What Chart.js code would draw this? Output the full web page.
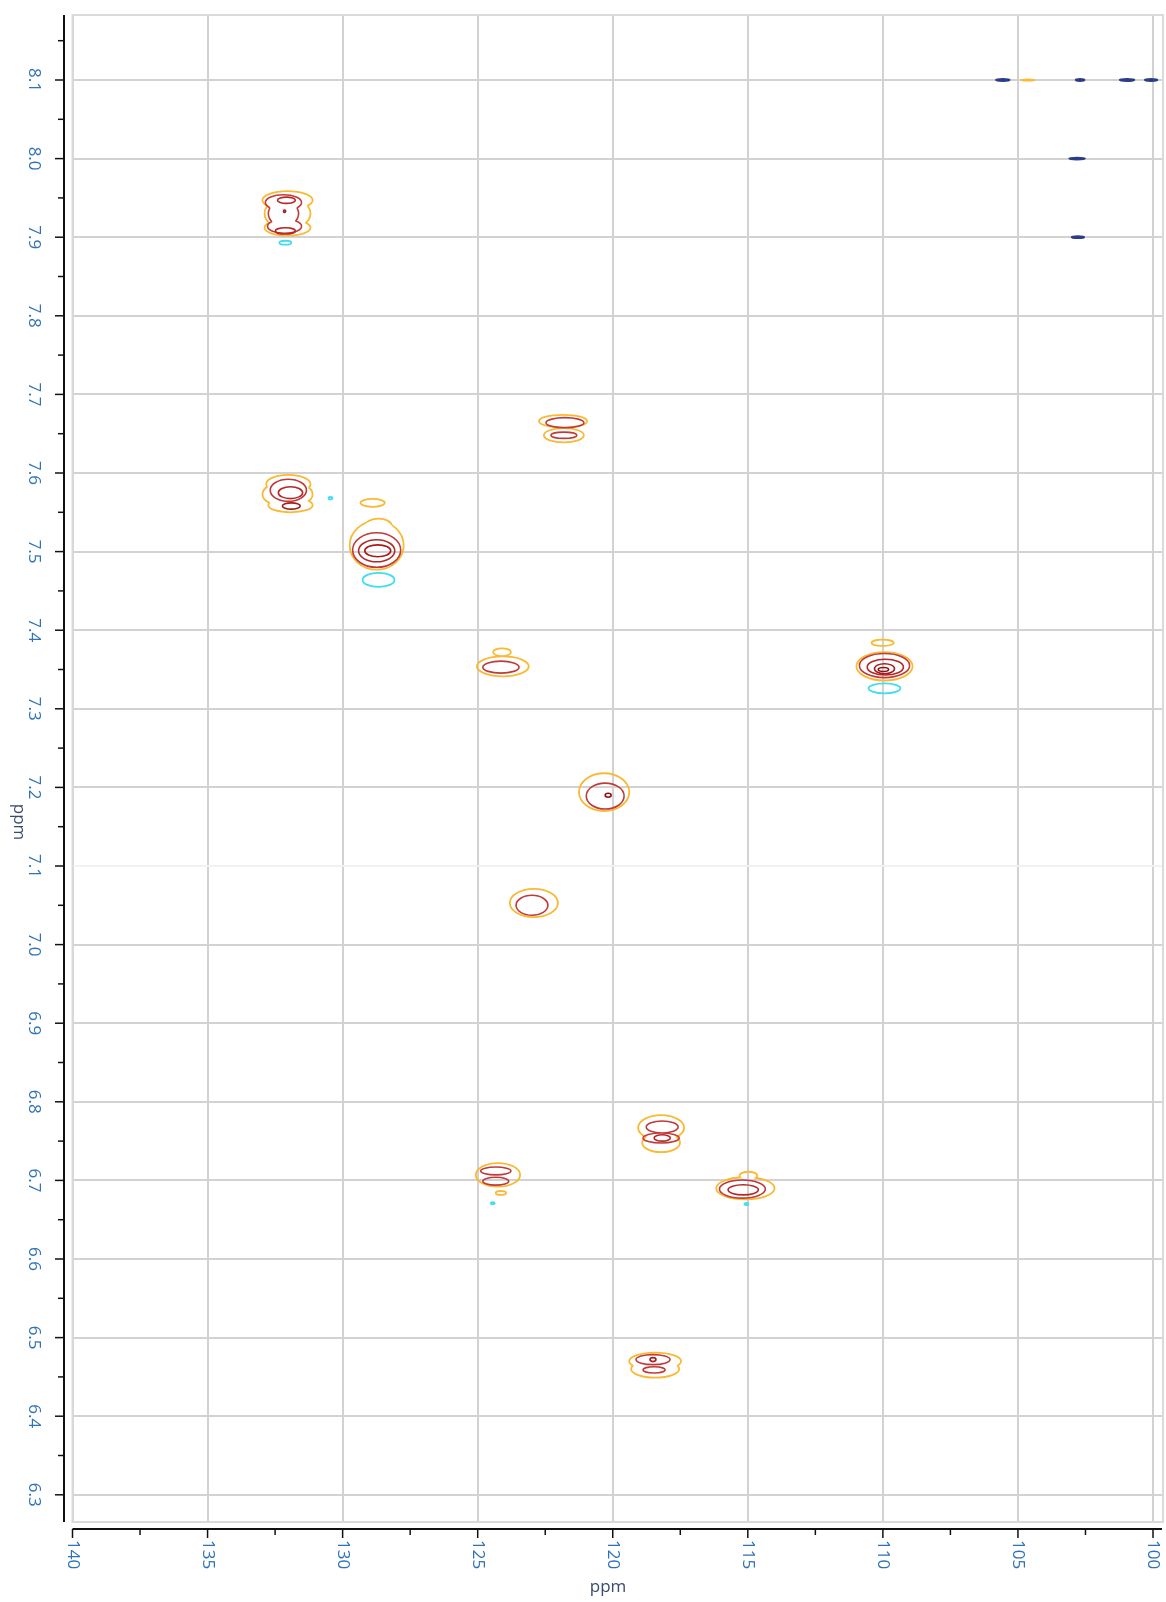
<!DOCTYPE html>
<html>
<head>
<meta charset="utf-8">
<script src="https://cdn.jsdelivr.net/npm/chart.js@4.4.1/dist/chart.umd.min.js"></script>
<style>
    html, body { margin: 0; background: #fff; }
    #wrap { width: 1166px; height: 1602px; position: relative; }
</style>
</head>
<body>
<div id="wrap"><canvas id="hsqc"></canvas></div>
<script>
// axis ranges (ppm) and tick labels
const carbonRange = [99.63, 140];
const protonRange = [6.2654, 8.1827];
const carbonTicks = [140, 135, 130, 125, 120, 115, 110, 105, 100];
const carbonMinor = [137.5, 132.5, 127.5, 122.5, 117.5, 112.5, 107.5, 102.5];
const protonTicks = [8.1, 8.0, 7.9, 7.8, 7.7, 7.6, 7.5, 7.4, 7.3, 7.2, 7.1, 7.0, 6.9, 6.8, 6.7, 6.6, 6.5, 6.4, 6.3];
const protonMinor = [8.15, 8.05, 7.95, 7.85, 7.75, 7.65, 7.55, 7.45, 7.35, 7.25, 7.15, 7.05, 6.95, 6.85, 6.75, 6.65, 6.55, 6.45, 6.35];

// contour rings: centre (13C, 1H), half widths in ppm, contour level, peak they belong to
// level: 0 lowest positive, 1..4 higher positive, -1 negative, 5 noise streaks
const ringC = [
    132.04, 132.04, 132.04, 132.19, 132.19, 132.15, 132.08, 132.12, 132.15, 132.12,
    132.01, 132.04, 131.93, 132.01, 131.93, 131.90, 130.45,
    128.89, 128.74, 128.67, 128.74, 128.74, 128.70, 128.67,
    121.84, 121.81, 121.77, 121.81,
    124.07, 124.10, 124.14,
    110.01, 109.94, 109.94, 109.91, 109.94, 109.98, 109.94,
    120.32, 120.28, 120.17,
    122.92, 122.99,
    118.21, 118.21, 118.17, 118.21, 118.17,
    124.25, 124.33, 124.33, 124.14, 124.44,
    115.09, 114.98, 115.20, 115.17, 115.05,
    118.43, 118.43, 118.51, 118.47, 118.51,
    105.56, 104.63, 102.70, 100.96, 100.07, 102.81, 102.78
];
const ringH = [
    7.947, 7.930, 7.912, 7.944, 7.930, 7.914, 7.947, 7.908, 7.933, 7.893,
    7.586, 7.573, 7.559, 7.578, 7.575, 7.558, 7.568,
    7.562, 7.508, 7.533, 7.502, 7.501, 7.501, 7.464,
    7.666, 7.648, 7.664, 7.648,
    7.354, 7.372, 7.353,
    7.384, 7.354, 7.355, 7.353, 7.351, 7.350, 7.326,
    7.194, 7.189, 7.190,
    7.053, 7.050,
    6.767, 6.748, 6.768, 6.754, 6.754,
    6.707, 6.712, 6.699, 6.684, 6.671,
    6.690, 6.706, 6.689, 6.688, 6.670,
    6.470, 6.460, 6.472, 6.459, 6.472,
    8.100, 8.100, 8.100, 8.100, 8.100, 8.000, 7.900
];
const ringWC = [
    0.93, 0.85, 0.85, 0.67, 0.56, 0.63, 0.33, 0.37, 0.04, 0.22,
    0.82, 0.93, 0.82, 0.67, 0.45, 0.33, 0.07,
    0.45, 1.00, 0.48, 0.89, 0.67, 0.48, 0.59,
    0.89, 0.74, 0.70, 0.48,
    0.96, 0.33, 0.67,
    0.41, 1.04, 0.93, 0.67, 0.37, 0.19, 0.59,
    0.93, 0.70, 0.11,
    0.89, 0.59,
    0.85, 0.70, 0.59, 0.67, 0.30,
    0.82, 0.56, 0.48, 0.19, 0.07,
    1.08, 0.33, 0.85, 0.56, 0.07,
    0.96, 0.89, 0.63, 0.41, 0.11,
    0.24, 0.24, 0.15, 0.26, 0.22, 0.28, 0.22
];
const ringWH = [
    0.0115, 0.020, 0.010, 0.010, 0.016, 0.009, 0.004, 0.004, 0.0015, 0.0025,
    0.0115, 0.016, 0.009, 0.014, 0.0076, 0.004, 0.0015,
    0.005, 0.031, 0.009, 0.022, 0.014, 0.0076, 0.009,
    0.008, 0.009, 0.0064, 0.004,
    0.0127, 0.005, 0.0076,
    0.004, 0.018, 0.0153, 0.010, 0.0064, 0.0025, 0.0064,
    0.024, 0.0165, 0.0025,
    0.018, 0.0127,
    0.016, 0.012, 0.0076, 0.0064, 0.004,
    0.015, 0.005, 0.005, 0.0025, 0.0013,
    0.014, 0.005, 0.0115, 0.0064, 0.0013,
    0.011, 0.011, 0.0064, 0.004, 0.0025,
    0.0008, 0.0008, 0.0008, 0.0008, 0.0008, 0.0008, 0.0008
];
const ringLevel = [
    0, 0, 0, 1, 1, 1, 2, 2, 3, -1,
    0, 0, 0, 1, 2, 3, -1,
    0, 0, 0, 1, 2, 3, -1,
    0, 0, 1, 1,
    0, 0, 1,
    0, 0, 1, 2, 3, 4, -1,
    0, 1, 4,
    0, 1,
    0, 0, 1, 1, 2,
    0, 1, 1, 0, -1,
    0, 0, 1, 2, -1,
    0, 0, 1, 1, 3,
    5, 0, 5, 5, 5, 5, 5
];
const ringPeak = [
    1, 1, 1, 1, 1, 1, 1, 1, 1, 1,
    2, 2, 2, 2, 2, 2, 2,
    3, 3, 3, 3, 3, 3, 3,
    4, 4, 4, 4,
    5, 5, 5,
    6, 6, 6, 6, 6, 6, 6,
    7, 7, 7,
    8, 8,
    9, 9, 9, 9, 9,
    10, 10, 10, 10, 10,
    11, 11, 11, 11, 11,
    12, 12, 12, 12, 12,
    13, 14, 15, 16, 17, 18, 19
];

const levelColor = {
    '-1': '#3fdcf2',
    0: '#f9b933',
    1: '#c03a3a',
    2: '#b42828',
    3: '#a51c1c',
    4: '#8e1010',
    5: '#2c3c86',
};

const labelFont = '17px "Open Sans", sans-serif';
const labelColor = '#2f73b6';
const titleColor = '#3a4a6a';

const ellipsePath = (ctx, e) => {
    ctx.moveTo(e.cx + e.rx, e.cy);
    ctx.ellipse(e.cx, e.cy, e.rx, e.ry, 0, 0, Math.PI * 2);
};

const contourPlugin = {
    id: 'contours',
    beforeDatasetsDraw(chart) {
        const { ctx, chartArea: a, scales: { x, y } } = chart;
        const rings = ringC.map((c, i) => ({
            cx: x.getPixelForValue(c),
            cy: y.getPixelForValue(ringH[i]),
            rx: Math.abs(x.getPixelForValue(c + ringWC[i]) - x.getPixelForValue(c - ringWC[i])) / 2,
            ry: Math.abs(y.getPixelForValue(ringH[i] + ringWH[i]) - y.getPixelForValue(ringH[i] - ringWH[i])) / 2,
            level: ringLevel[i],
            peak: ringPeak[i],
        }));
        const order = [5, -1, 0, 1, 2, 3, 4];
        ctx.save();
        ctx.beginPath();
        ctx.rect(a.left, a.top, a.right - a.left, a.bottom - a.top);
        ctx.clip();
        order.forEach((lvl) => {
            rings.forEach((r, i) => {
                if (r.level !== lvl) return;
                ctx.save();
                // rings of the same peak and level form one outline
                const mates = rings.filter((m, j) => j !== i && m.peak === r.peak && m.level === r.level);
                if (mates.length) {
                    ctx.beginPath();
                    ctx.rect(0, 0, chart.width, chart.height);
                    mates.forEach((m) => ellipsePath(ctx, m));
                    ctx.clip('evenodd');
                }
                ctx.beginPath();
                ellipsePath(ctx, r);
                ctx.strokeStyle = levelColor[lvl];
                ctx.lineWidth = lvl === 5 ? 2.5 : lvl === 0 || lvl === -1 ? 1.8 : 1.6;
                ctx.stroke();
                ctx.restore();
            });
        });
        ctx.restore();
    },
};

const axesPlugin = {
    id: 'ppmAxes',
    afterDraw(chart) {
        const { ctx, chartArea: a, scales: { x, y } } = chart;
        ctx.save();
        // plot frame
        ctx.strokeStyle = '#dadada';
        ctx.lineWidth = 2;
        ctx.strokeRect(a.left, a.top, a.right - a.left, a.bottom - a.top);

        // proton axis on the left
        const yAxisX = 64;
        ctx.strokeStyle = '#111';
        ctx.lineWidth = 2;
        ctx.beginPath();
        ctx.moveTo(yAxisX, a.top);
        ctx.lineTo(yAxisX, a.bottom);
        ctx.stroke();
        ctx.lineWidth = 1.5;
        protonTicks.forEach((v) => {
            const py = y.getPixelForValue(v);
            ctx.beginPath();
            ctx.moveTo(yAxisX - 9, py);
            ctx.lineTo(yAxisX, py);
            ctx.stroke();
        });
        protonMinor.forEach((v) => {
            const py = y.getPixelForValue(v);
            if (py < a.top || py > a.bottom) return;
            ctx.beginPath();
            ctx.moveTo(yAxisX - 6, py);
            ctx.lineTo(yAxisX, py);
            ctx.stroke();
        });

        // carbon axis at the bottom
        const xAxisY = a.bottom + 7;
        ctx.lineWidth = 2;
        ctx.beginPath();
        ctx.moveTo(a.left, xAxisY);
        ctx.lineTo(a.right - 1, xAxisY);
        ctx.stroke();
        ctx.lineWidth = 1.5;
        carbonTicks.forEach((v) => {
            const px = x.getPixelForValue(v);
            ctx.beginPath();
            ctx.moveTo(px, xAxisY);
            ctx.lineTo(px, xAxisY + 9);
            ctx.stroke();
        });
        carbonMinor.forEach((v) => {
            const px = x.getPixelForValue(v);
            ctx.beginPath();
            ctx.moveTo(px, xAxisY);
            ctx.lineTo(px, xAxisY + 6);
            ctx.stroke();
        });

        // tick labels, turned a quarter clockwise
        ctx.font = labelFont;
        ctx.fillStyle = labelColor;
        ctx.textBaseline = 'middle';
        protonTicks.forEach((v) => {
            ctx.save();
            ctx.translate(34, y.getPixelForValue(v));
            ctx.rotate(Math.PI / 2);
            ctx.textAlign = 'center';
            ctx.fillText(v.toFixed(1), 0, 0);
            ctx.restore();
        });
        carbonTicks.forEach((v) => {
            ctx.save();
            ctx.translate(x.getPixelForValue(v), xAxisY + 11);
            ctx.rotate(Math.PI / 2);
            ctx.textAlign = 'left';
            ctx.fillText(String(v), 0, 0);
            ctx.restore();
        });

        // axis titles
        ctx.fillStyle = titleColor;
        ctx.textAlign = 'center';
        ctx.fillText('ppm', 608, 1587);
        ctx.save();
        ctx.translate(19, 822);
        ctx.rotate(Math.PI / 2);
        ctx.fillText('ppm', 0, 0);
        ctx.restore();
        ctx.restore();
    },
};

const buildSpectrum = () => {
    const canvas = document.getElementById('hsqc');
    const gridColor = (c) => (Math.abs(c.tick.value - 7.1) < 1e-6 ? '#f1f1f1' : '#d2d2d2');
    new Chart(canvas, {
        type: 'scatter',
        data: {
            datasets: [{
                data: ringC.map((c, i) => ({ x: c, y: ringH[i] })),
                pointRadius: 0,
                pointHoverRadius: 0,
            }],
        },
        options: {
            responsive: true,
            maintainAspectRatio: false,
            animation: false,
            devicePixelRatio: 1,
            layout: { padding: { left: 72.5, right: 3, top: 15, bottom: 80 } },
            plugins: { legend: { display: false }, tooltip: { enabled: false } },
            scales: {
                x: {
                    type: 'linear',
                    reverse: true,
                    min: carbonRange[0],
                    max: carbonRange[1],
                    afterBuildTicks: (s) => { s.ticks = carbonTicks.map((v) => ({ value: v })); },
                    ticks: { display: false },
                    grid: { color: '#d2d2d2', lineWidth: 2, drawTicks: false },
                    border: { display: false },
                },
                y: {
                    type: 'linear',
                    min: protonRange[0],
                    max: protonRange[1],
                    afterBuildTicks: (s) => { s.ticks = protonTicks.map((v) => ({ value: v })); },
                    ticks: { display: false },
                    grid: { color: gridColor, lineWidth: 2, drawTicks: false },
                    border: { display: false },
                },
            },
        },
        plugins: [contourPlugin, axesPlugin],
    });
};

buildSpectrum();
</script>
</body>
</html>
